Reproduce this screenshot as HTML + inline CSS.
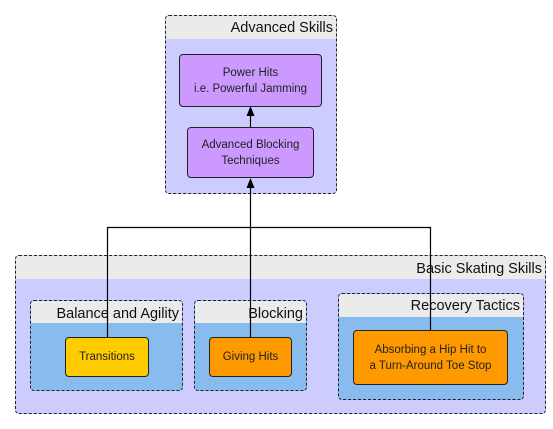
<!DOCTYPE html><html><head><style>
body{margin:0;width:553px;height:429px;background:#fff;font-family:"Liberation Sans",sans-serif;position:relative;overflow:hidden}
.g{position:absolute;border:1px dashed #222;border-radius:4px;box-sizing:border-box;overflow:hidden}
.h{background:#ebebeb;text-align:right;padding-right:3px;color:#111;box-sizing:border-box;font-size:14.5px!important}
.n{position:absolute;border:1px solid #222;border-radius:4px;box-sizing:border-box;display:flex;align-items:center;justify-content:center;text-align:center;font-size:11.5px;color:#222;line-height:16px}
</style></head><body>
<div class="g" style="left:165px;top:15px;width:172px;height:179px;background:#ccccff"><div class="h" style="height:23px;line-height:24px">Advanced Skills</div></div>
<div class="g" style="left:15px;top:255px;width:531px;height:159px;background:#ccccff"><div class="h" style="height:23px;line-height:26px">Basic Skating Skills</div></div>
<div class="g" style="left:30px;top:300px;width:153px;height:91px;background:#88bbee"><div class="h" style="height:22px;line-height:26px">Balance and Agility</div></div>
<div class="g" style="left:194px;top:300px;width:113px;height:91px;background:#88bbee"><div class="h" style="height:22px;line-height:26px">Blocking</div></div>
<div class="g" style="left:338px;top:293px;width:186px;height:107px;background:#88bbee"><div class="h" style="height:23px;line-height:24px">Recovery Tactics</div></div>
<div class="n" style="left:179px;top:54px;width:143px;height:53px;background:#cc99ff">Power Hits<br>i.e. Powerful Jamming</div>
<div class="n" style="left:187px;top:127px;width:127px;height:51px;background:#cc99ff">Advanced Blocking<br>Techniques</div>
<div class="n" style="left:65px;top:337px;width:84px;height:40px;background:#ffcc00">Transitions</div>
<div class="n" style="left:209px;top:337px;width:83px;height:40px;background:#ff9900">Giving Hits</div>
<div class="n" style="left:353px;top:330px;width:155px;height:55px;background:#ff9900">Absorbing a Hip Hit to<br>a Turn-Around Toe Stop</div>
<svg width="553" height="429" style="position:absolute;left:0;top:0">
<g stroke="#000" stroke-width="1.2" fill="none">
<path d="M107.5 337V227.5H430.5V330M250.5 337V186M250.5 127V113"/>
</g>
<path d="M250.5 178l-4 10h8z M250.5 106l-4 10h8z" fill="#000"/>
</svg>
</body></html>
